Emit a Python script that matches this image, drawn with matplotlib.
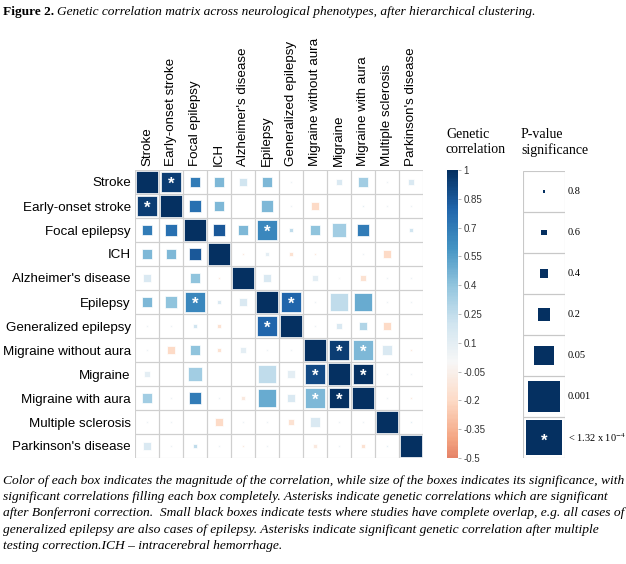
import numpy as np
import matplotlib as mpl
import matplotlib.pyplot as plt
from matplotlib.patches import Rectangle
from matplotlib.colors import Normalize, LinearSegmentedColormap

plt.rcParams['font.family'] = 'sans-serif'
plt.rcParams['font.sans-serif'] = ['Liberation Sans']
plt.rcParams['font.serif'] = ['Liberation Serif']
plt.rcParams['mathtext.fontset'] = 'stix'

# Phenotypes, in the order after hierarchical clustering
phenotypes = ['Stroke', 'Early-onset stroke', 'Focal epilepsy', 'ICH',
              "Alzheimer's disease", 'Epilepsy', 'Generalized epilepsy',
              'Migraine without aura', 'Migraine', 'Migraine with aura',
              'Multiple sclerosis', "Parkinson's disease"]

# Genetic correlation
rg = np.array([
    [1.00, 0.95, 0.70, 0.45, 0.20, 0.45, 0.05, 0.02, 0.15, 0.35, 0.05, 0.15],
    [0.95, 1.00, 0.75, 0.45, 0.00, 0.45, 0.05, -0.20, 0.00, 0.10, 0.05, 0.05],
    [0.70, 0.75, 1.00, 0.85, 0.45, 0.65, 0.25, 0.40, 0.35, 0.70, 0.00, 0.20],
    [0.45, 0.45, 0.85, 1.00, -0.10, 0.10, -0.15, -0.10, 0.00, 0.05, -0.20, 0.00],
    [0.15, 0.00, 0.40, -0.10, 1.00, 0.15, 0.00, 0.10, 0.00, -0.15, 0.05, 0.05],
    [0.45, 0.40, 0.65, 0.15, 0.15, 1.00, 0.80, 0.05, 0.25, 0.50, 0.05, 0.05],
    [0.05, 0.05, 0.20, -0.15, 0.00, 0.80, 1.00, 0.05, 0.15, 0.30, -0.20, 0.00],
    [0.05, -0.20, 0.40, -0.15, 0.10, 0.05, 0.05, 1.00, 0.95, 0.45, 0.15, -0.10],
    [0.10, 0.00, 0.35, 0.00, 0.00, 0.25, 0.10, 0.90, 1.00, 1.00, 0.05, 0.05],
    [0.35, 0.05, 0.70, 0.05, -0.10, 0.50, 0.15, 0.45, 1.00, 1.00, 0.05, -0.10],
    [0.05, 0.05, 0.00, -0.20, 0.05, 0.05, -0.15, 0.15, 0.05, 0.05, 1.00, 0.10],
    [0.15, 0.05, 0.25, 0.05, -0.10, 0.05, 0.00, -0.10, 0.05, -0.15, 0.10, 1.00],
])

# P-values
pval = np.array([
    [0, 1e-6, 0.09, 0.055, 0.2, 0.06, 0.75, 0.9, 0.25, 0.07, 0.75, 0.25],
    [1e-6, 0, 0.02, 0.06, 0.95, 0.035, 0.75, 0.15, 0.95, 0.75, 0.8, 0.8],
    [0.09, 0.02, 0, 0.02, 0.09, 1e-5, 0.4, 0.06, 0.007, 0.02, 0.95, 0.4],
    [0.055, 0.055, 0.02, 0, 0.6, 0.5, 0.4, 0.6, 0.95, 0.8, 0.13, 0.9],
    [0.2, 0.95, 0.09, 0.6, 0, 0.2, 0.95, 0.35, 0.85, 0.35, 0.8, 0.75],
    [0.09, 0.035, 1e-5, 0.5, 0.2, 0, 1e-6, 0.75, 0.0012, 0.0012, 0.8, 0.8],
    [0.8, 0.75, 0.4, 0.4, 0.95, 1e-6, 0, 0.8, 0.3, 0.13, 0.2, 0.95],
    [0.85, 0.13, 0.06, 0.4, 0.3, 0.75, 0.8, 0, 1e-6, 1e-5, 0.06, 0.6],
    [0.3, 0.95, 0.007, 0.95, 0.95, 0.0012, 0.2, 1e-6, 0, 1e-7, 0.8, 0.8],
    [0.09, 0.75, 0.02, 0.8, 0.4, 0.0012, 0.13, 1e-5, 1e-7, 0, 0.8, 0.6],
    [0.75, 0.75, 0.95, 0.2, 0.8, 0.75, 0.3, 0.06, 0.8, 0.85, 0, 0.6],
    [0.13, 0.8, 0.4, 0.85, 0.6, 0.8, 0.95, 0.4, 0.8, 0.4, 0.6, 0],
])

bonferroni = 1.32e-4
p_levels = [0.8, 0.6, 0.4, 0.2, 0.05, 0.001, 1.32e-4]
p_labels = ['0.8', '0.6', '0.4', '0.2', '0.05', '0.001', r'< 1.32 x 10$^{-4}$']
cbar_ticks = [1, 0.85, 0.7, 0.55, 0.4, 0.25, 0.1, -0.05, -0.2, -0.35, -0.5]

caption = ("Color of each box indicates the magnitude of the correlation, while size of the boxes indicates its significance, with\n"
           "significant correlations filling each box completely. Asterisks indicate genetic correlations which are significant\n"
           "after Bonferroni correction.  Small black boxes indicate tests where studies have complete overlap, e.g. all cases of\n"
           "generalized epilepsy are also cases of epilepsy. Asterisks indicate significant genetic correlation after multiple\n"
           "testing correction.ICH \u2013 intracerebral hemorrhage.")

W, H = 626, 564
fig = plt.figure(figsize=(W / 100, H / 100), dpi=100)


def px_axes(x0, y0, x1, y1):
    return fig.add_axes([x0 / W, 1 - y1 / H, (x1 - x0) / W, (y1 - y0) / H])


cmap = plt.get_cmap('RdBu')
norm = Normalize(-1, 1)

# box size (fraction of cell) against p-value, from the legend
size_p = [1.0] + p_levels
size_frac = [0.0, 0.07, 0.12, 0.2, 0.3, 0.46, 0.76, 0.86]


def box_size(p):
    return np.interp(-np.log10(max(p, 1e-12)), -np.log10(size_p), size_frac)


# Correlation matrix
ax = px_axes(135, 170, 423, 458)
n = len(phenotypes)
ax.set_xlim(0, n)
ax.set_ylim(n, 0)
for i in range(n):
    for j in range(n):
        ax.add_patch(Rectangle((j, i), 1, 1, fill=False, edgecolor='#cfcfcf', lw=0.8))
        s = 0.88 if i == j else box_size(pval[i, j])
        ax.add_patch(Rectangle((j + 0.5 - s / 2, i + 0.5 - s / 2), s, s,
                               facecolor=cmap(norm(rg[i, j])), edgecolor='white', lw=0.5))
        if i != j and pval[i, j] < bonferroni:
            ax.text(j + 0.5, i + 0.6, '*', color='white', ha='center', va='center',
                    fontsize=12, fontweight='bold')

ax.set_xticks(np.arange(n) + 0.5)
ax.set_xticklabels(phenotypes, rotation=90, fontsize=9.6)
ax.xaxis.tick_top()
ax.set_yticks(np.arange(n) + 0.5)
ax.set_yticklabels(phenotypes, fontsize=9.6)
ax.tick_params(length=0, pad=3)
for sp in ax.spines.values():
    sp.set_visible(False)

# Colour bar
cax = px_axes(447, 170, 458, 458)
sub_cmap = LinearSegmentedColormap.from_list('rdbu_sub', cmap(np.linspace(0.25, 1, 256)))
cb = fig.colorbar(mpl.cm.ScalarMappable(Normalize(-0.5, 1), sub_cmap), cax=cax, ticks=cbar_ticks)
cb.outline.set_visible(False)
cax.set_yticklabels([f'{t:g}' for t in cbar_ticks])
cax.tick_params(length=2, width=0.5, color='#999999', labelsize=7, pad=2, labelcolor='#333333')

# P-value legend
lax = px_axes(523, 171, 565, 458)
lax.set_xlim(0, 1)
lax.set_ylim(len(p_levels), 0)
lax.axis('off')
for k, p in enumerate(p_levels):
    lax.add_patch(Rectangle((0, k), 1, 1, fill=False, edgecolor='#c8c8c8', lw=0.8))
    s = box_size(p)
    lax.add_patch(Rectangle((0.5 - s / 2, k + 0.5 - s / 2), s, s, facecolor=cmap(1.0), edgecolor='none'))
    if p <= bonferroni:
        lax.text(0.5, k + 0.6, '*', color='white', ha='center', va='center', fontsize=12, fontweight='bold')
    lax.text(1.07, k + 0.5, p_labels[k], ha='left', va='center', family='serif', fontsize=7.5)

fig.text(446 / W, 1 - 128 / H, 'Genetic\ncorrelation', ha='left', va='top', family='serif',
         fontsize=10, linespacing=1.2)
fig.text(521 / W, 1 - 128 / H, 'P-value\nsignificance', ha='left', va='top', family='serif',
         fontsize=10, linespacing=1.2)

# Title
t1 = fig.text(3 / W, 1 - 12 / H, 'Figure 2.', ha='left', va='center', family='serif',
              fontweight='bold', fontsize=9.6)
fig.canvas.draw()
bb = t1.get_window_extent()
fig.text((bb.x1 + 3) / W, 1 - 12 / H,
         'Genetic correlation matrix across neurological phenotypes, after hierarchical clustering.',
         ha='left', va='center', family='serif', style='italic', fontsize=9.6)

# Caption
fig.text(3 / W, 1 - 475 / H, caption, ha='left', va='top', family='serif', style='italic',
         fontsize=9.7, linespacing=1.47)

fig.savefig('out.png', dpi=100)
